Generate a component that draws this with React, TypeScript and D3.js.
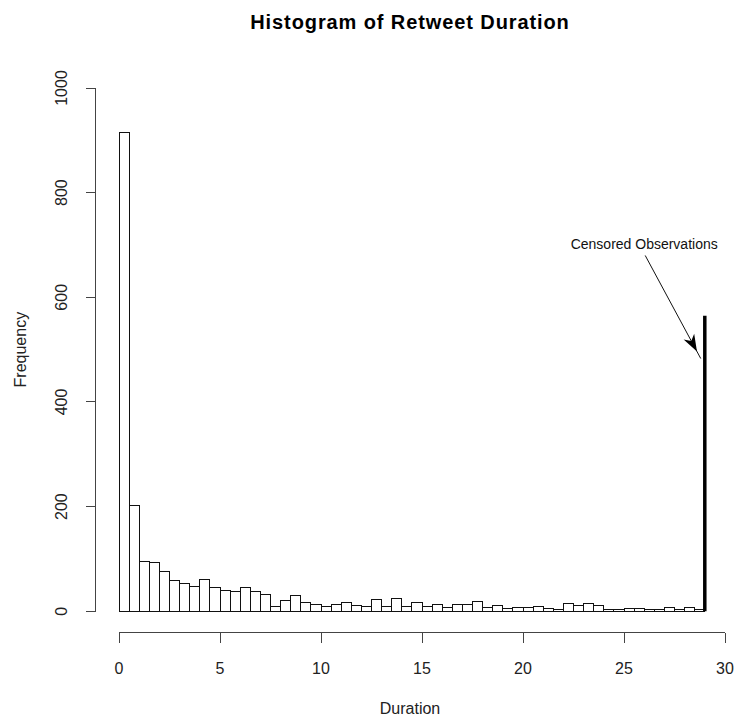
import React from "react";
import * as d3 from "d3";

// Histogram bins: width 0.5, from 0 to 29
const binStarts: number[] = d3.range(0, 29, 0.5);
const binWidth = 0.5;
const counts: number[] = [
  915, 202, 96, 93, 76, 59, 53, 47, 61, 45,
  39, 37, 45, 37, 33, 10, 20, 30, 17, 13,
  9, 13, 17, 11, 9, 22, 9, 24, 9, 17,
  9, 13, 7, 13, 13, 19, 8, 12, 6, 8,
  8, 10, 6, 4, 14, 12, 14, 12, 4, 4,
  6, 6, 4, 4, 8, 4, 8, 3,
];
const censoredX = 29;
const censoredCount = 565;
const xTicks: number[] = [0, 5, 10, 15, 20, 25, 30];
const yTicks: number[] = [0, 200, 400, 600, 800, 1000];
const annotationText = "Censored Observations";
const annotationPos: [number, number] = [26.0, 700];
const arrowFrom: [number, number] = [26.05, 680];
const arrowTo: [number, number] = [28.8, 483];

const W = 735;
const H = 719;

export default function App() {
  const x = d3.scaleLinear().domain([0, 30]).range([119, 725]);
  const y = d3.scaleLinear().domain([0, 1000]).range([611.3, 88]);
  const axisY = 632.5;
  const axisX = 95.5;
  const font = "'Liberation Sans', Arial, sans-serif";

  // arrow geometry
  const sx = x(arrowFrom[0]), sy = y(arrowFrom[1]);
  const ex = x(arrowTo[0]), ey = y(arrowTo[1]);
  const dx = ex - sx, dy = ey - sy;
  const len = Math.hypot(dx, dy);
  const ux = dx / len, uy = dy / len;
  const nx = -uy, ny = ux;
  const tipX = ex - 8 * ux, tipY = ey - 8 * uy;
  const backX = tipX - 17 * ux, backY = tipY - 17 * uy;
  const notchX = tipX - 12 * ux, notchY = tipY - 12 * uy;
  const head = [
    [tipX, tipY],
    [backX + 6 * nx, backY + 6 * ny],
    [notchX, notchY],
    [backX - 6 * nx, backY - 6 * ny],
  ]
    .map((p) => p.join(","))
    .join(" ");

  return (
    <svg
      width={W}
      height={H}
      style={{ position: "absolute", left: 0, top: 0, background: "#fff" }}
      fontFamily={font}
    >
      <rect x={0} y={0} width={W} height={H} fill="#fff" />
      <text
        x={410}
        y={29}
        textAnchor="middle"
        fontSize={20}
        fontWeight="bold"
        letterSpacing={0.9}
        fill="#000"
      >
        Histogram of Retweet Duration
      </text>

      {/* bars */}
      <g shapeRendering="crispEdges">
        {binStarts.map((b, i) => (
          <rect
            key={i}
            x={x(b)}
            y={y(counts[i])}
            width={x(b + binWidth) - x(b)}
            height={y(0) - y(counts[i])}
            fill="#fff"
            stroke="#111"
            strokeWidth={1}
          />
        ))}
      </g>

      {/* censored line */}
      <line
        x1={x(censoredX)}
        x2={x(censoredX)}
        y1={y(0)}
        y2={y(censoredCount)}
        stroke="#000"
        strokeWidth={3.5}
      />

      {/* x axis */}
      <g shapeRendering="crispEdges" stroke="#444">
        <line x1={x(0)} x2={x(30)} y1={axisY} y2={axisY} />
        {xTicks.map((t) => (
          <line key={t} x1={x(t)} x2={x(t)} y1={axisY} y2={axisY + 10} />
        ))}
      </g>
      {xTicks.map((t) => (
        <text key={t} x={x(t)} y={674} textAnchor="middle" fontSize={16} fill="#222">
          {t}
        </text>
      ))}
      <text x={410} y={714} textAnchor="middle" fontSize={16} fill="#222">
        Duration
      </text>

      {/* y axis */}
      <g shapeRendering="crispEdges" stroke="#444">
        <line x1={axisX} x2={axisX} y1={y(0)} y2={y(1000)} />
        {yTicks.map((t) => (
          <line key={t} x1={axisX} x2={axisX - 10} y1={y(t)} y2={y(t)} />
        ))}
      </g>
      {yTicks.map((t) => (
        <text
          key={t}
          transform={`translate(67,${y(t)}) rotate(-90)`}
          textAnchor="middle"
          fontSize={16}
          fill="#222"
        >
          {t}
        </text>
      ))}
      <text
        transform={`translate(26,${(y(0) + y(1000)) / 2}) rotate(-90)`}
        textAnchor="middle"
        fontSize={16}
        fill="#222"
      >
        Frequency
      </text>

      {/* annotation */}
      <text
        x={x(annotationPos[0])}
        y={y(annotationPos[1])}
        textAnchor="middle"
        dominantBaseline="middle"
        fontSize={14}
        fill="#111"
      >
        {annotationText}
      </text>
      <line x1={sx} y1={sy} x2={ex} y2={ey} stroke="#111" strokeWidth={1} />
      <polygon points={head} fill="#000" />
    </svg>
  );
}
